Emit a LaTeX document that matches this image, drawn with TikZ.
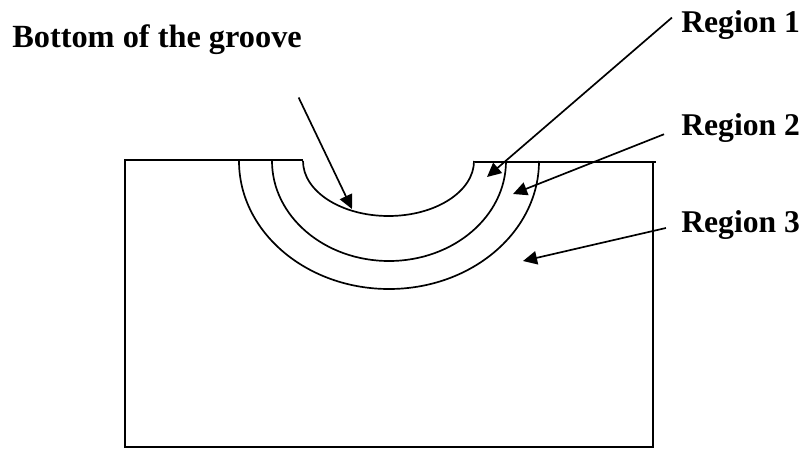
\documentclass[tikz,border=0pt]{standalone}
\usepackage{fontspec}
\setmainfont{Liberation Serif}
\usetikzlibrary{arrows.meta}
\tikzset{
  outline/.style={line width=1.2pt},
  pointer/.style={line width=1.2pt,-{Triangle[length=10pt,width=9.5pt]}},
  regionlabel/.style={font=\bfseries\fontsize{22.5}{26}\selectfont,inner sep=0pt,anchor=base west}
}

\begin{document}
\begin{tikzpicture}[x=0.025cm,y=0.025cm]
  \useasboundingbox (0,0) rectangle (807,450);

  % The block, with the gap left open for the groove
  \draw[outline] (303,290) -- (125,290) -- (125,3) -- (653,3) -- (653,288);
  \draw[outline] (475,288) -- (656,288);

  % Groove and the two layers under it
  \foreach \x/\rx/\ry in {303/85.5/55, 272/117/100, 239/150/128} {
    \draw[outline] (\x,289) arc (180:360:\rx*0.025cm and \ry*0.025cm);
  }

  % Labels
  \node[regionlabel,font=\bfseries\fontsize{23}{26}\selectfont] (bottom) at (12,403) {Bottom of the groove};
  \node[regionlabel] (regionA) at (681,418) {Region 1};
  \node[regionlabel] (regionB) at (681,315) {Region 2};
  \node[regionlabel] (regionC) at (681,218) {Region 3};

  % Arrow tips
  \coordinate (tipbottom) at (352,241);
  \coordinate (tipA) at (487,273);
  \coordinate (tipB) at (513,256);
  \coordinate (tipC) at (523,189);

  % Pointers
  \draw[pointer,shorten <=34pt] ([xshift=86pt]bottom.south) -- (tipbottom);
  \draw[pointer,shorten <=8.5pt] (regionA.north west) -- (tipA);
  \draw[pointer,shorten <=13pt] (regionB.west) -- (tipB);
  \draw[pointer,shorten <=11pt] (regionC.west) -- (tipC);
\end{tikzpicture}
\end{document}
